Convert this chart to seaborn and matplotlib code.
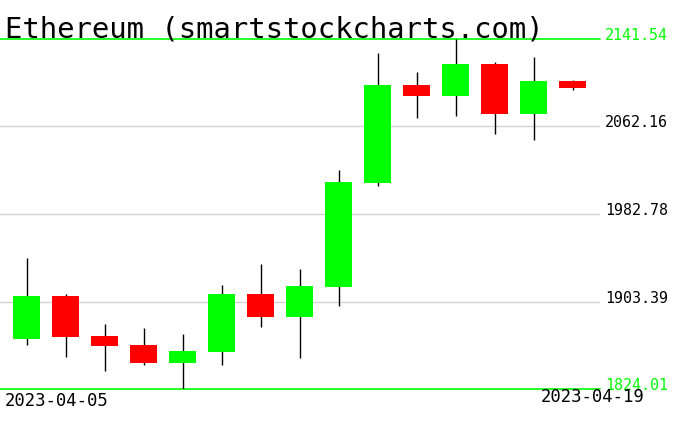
import matplotlib
matplotlib.use("Agg")
import matplotlib.pyplot as plt
import matplotlib.transforms as mtransforms
import seaborn as sns
import numpy as np
import pandas as pd

# daily OHLC values
dates = ['2023-04-05', '2023-04-06', '2023-04-07', '2023-04-08', '2023-04-09',
         '2023-04-10', '2023-04-11', '2023-04-12', '2023-04-13', '2023-04-14',
         '2023-04-15', '2023-04-16', '2023-04-17', '2023-04-18', '2023-04-19']
opens = [1869.7, 1908.4, 1872.1, 1863.9, 1847.9, 1857.9, 1910.2, 1889.6,
         1916.8, 2011.2, 2099.8, 2090.1, 2118.9, 2073.8, 2103.4]
highs = [1942.9, 1909.9, 1883.0, 1879.4, 1873.9, 1918.4, 1937.4, 1932.9,
         2022.7, 2128.8, 2111.6, 2141.54, 2120.7, 2125.2, 2104.3]
lows = [1864.2, 1853.3, 1840.6, 1846.1, 1824.01, 1846.1, 1880.5, 1852.4,
        1899.0, 2008.5, 2070.1, 2072.0, 2055.6, 2050.2, 2095.5]
closes = [1908.4, 1871.5, 1863.3, 1847.6, 1858.5, 1910.2, 1889.6, 1917.5,
          2011.8, 2099.8, 2090.1, 2118.9, 2073.8, 2103.4, 2097.4]
tick_values = [2141.54, 2062.16, 1982.78, 1903.39, 1824.01]

df = pd.DataFrame({'Date': dates, 'Open': opens, 'High': highs,
                   'Low': lows, 'Close': closes})
df['i'] = np.arange(len(df))
df['Up'] = df['Close'] >= df['Open']
df['Bottom'] = df[['Open', 'Close']].min(axis=1)
df['Body'] = (df['Close'] - df['Open']).abs()

sns.set_style("white")
plt.rcParams['font.family'] = ['DejaVu Sans Mono', 'DejaVu Sans']
plt.rcParams['text.color'] = 'black'

W, H = 676, 431
fig = plt.figure(figsize=(W / 100, H / 100), dpi=100)
ax = fig.add_axes([0, (H - 390) / H, 600 / W, 350 / H])

green = '#00ff00'
red = '#ff0000'

# grid lines
for v in tick_values[1:-1]:
    ax.axhline(v, color='#d3d3d3', lw=1, zorder=0)
for v in (tick_values[0], tick_values[-1]):
    ax.axhline(v, color=green, lw=1.2, zorder=0, clip_on=False)

# wicks and bodies
ax.vlines(df['i'], df['Low'], df['High'], color='black', lw=1, zorder=1)
ax.bar(df['i'], df['Body'], bottom=df['Bottom'], width=0.69,
       color=np.where(df['Up'], green, red), edgecolor='none', zorder=2)

ax.set_xlim(-0.68, 14.705)
ax.set_ylim(tick_values[-1], tick_values[0])
ax.set_xticks([])
ax.set_yticks([])
sns.despine(ax=ax, left=True, bottom=True)
ax.patch.set_alpha(0)

trans = mtransforms.blended_transform_factory(ax.transAxes, ax.transData)
for k, v in enumerate(tick_values):
    c = green if k in (0, len(tick_values) - 1) else 'black'
    ax.text(605 / 600, v, f'{v:.2f}', transform=trans, color=c,
            fontsize=10.8, va='baseline', ha='left', clip_on=False)

fig.text(5 / W, 1 - 37.7 / H, 'Ethereum (smartstockcharts.com)',
         fontsize=20.8, va='baseline', ha='left', color='black')
fig.text(5 / W, 1 - 405.7 / H, dates[0], fontsize=12.4, va='baseline',
         ha='left', color='black')
fig.text(645 / W, 1 - 401.7 / H, dates[-1], fontsize=12.4, va='baseline',
         ha='right', color='black')

fig.savefig('out.png', dpi=100)
